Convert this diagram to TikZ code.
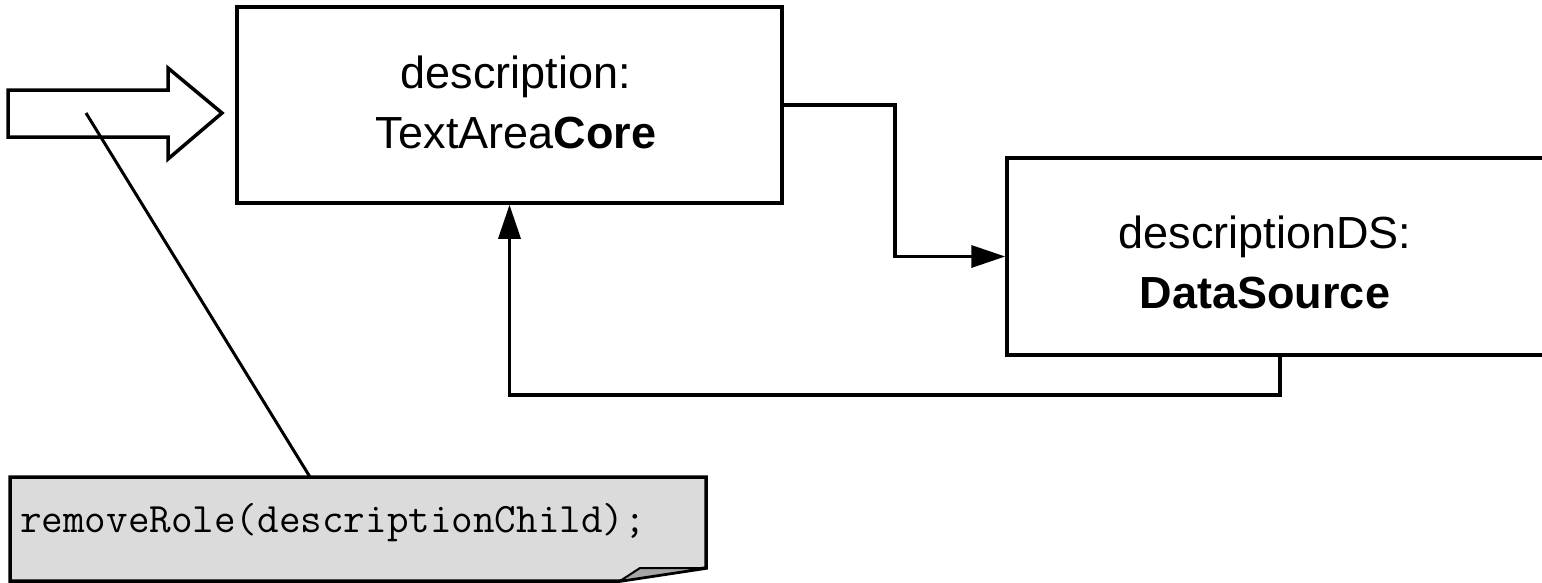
\documentclass[tikz,border=0pt]{standalone}
\usepackage{fontspec}
\setmainfont{Liberation Sans}
\usetikzlibrary{arrows.meta,calc}
\begin{document}
\begin{tikzpicture}[x=1pt,y=-1pt,
  line join=miter,
  box/.style={draw, line width=3.5pt, fill=white, inner sep=0pt},
  label/.style={align=center, font=\fontsize{45}{60}\selectfont},
  conn/.style={line width=3.5pt, -{Triangle[length=34pt,width=22pt]}},
  pinline/.style={line width=3pt},
  notefill/.style={fill=black!14, draw, line width=3.5pt}]
\useasboundingbox (0,0) rectangle (1542,582);
\clip (0,0) rectangle (1542,582);
\fill[white] (0,0) rectangle (1542,582);

% entry block arrow
\draw[line width=3.5pt, fill=white] (8,90) -- (168,90) -- (168,68) -- (222,113)
  -- (168,159) -- (168,137) -- (8,137) -- cycle;

% component boxes
\node[box, minimum width=545pt, minimum height=196pt] (core) at (509.5,105) {};
\node[label] (coretext) at (516,102) {description:\\TextArea\textbf{Core}};
\node[box, minimum width=553pt, minimum height=197pt] (ds) at (1283.5,256.5) {};
\node[label] (dstext) at (1265,262) {descriptionDS:\\\textbf{DataSource}};

% connectors between the boxes
\draw[conn] (core.east) -- ++(111,0) |- (ds.west);
\draw[conn] ([xshift=-3.5pt]ds.south) -- ++(0,38) -| (core.south);

% note with folded corner
\draw[notefill] (10,477) -- (706,477) -- (706,568) -- (620,581) -- (10,581) -- cycle;
\draw[fill=black!35, line width=2pt] (620,581) -- (640,568) -- (706,568) -- cycle;
\node[anchor=base west, inner sep=0pt, font=\ttfamily\fontsize{41.9}{44}\selectfont]
  (notetext) at (20,532) {removeRole(descriptionChild);};

% pin from the entry arrow to the note
\coordinate (hook) at (86,113);
\coordinate (pin) at (310,477);
\draw[pinline] (hook) -- (pin);
\end{tikzpicture}
\end{document}
